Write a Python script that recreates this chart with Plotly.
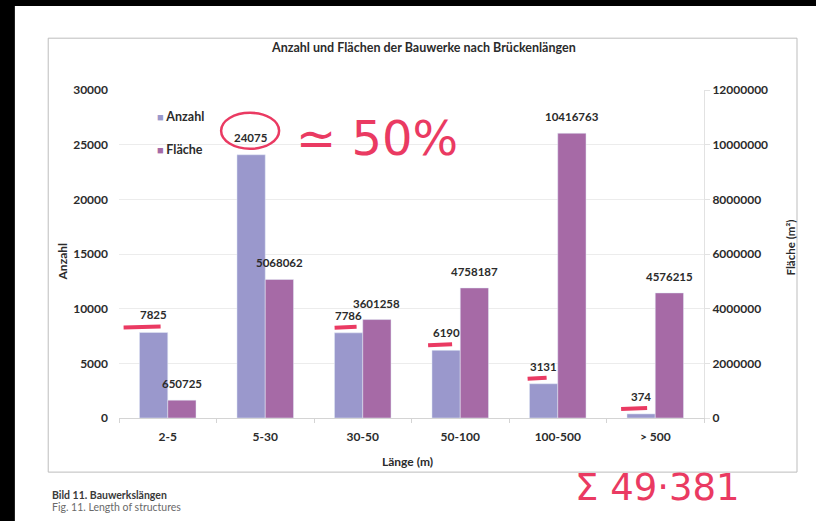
import plotly.graph_objects as go

# Bridge length classes and the two series per class
categories = ["2-5", "5-30", "30-50", "50-100", "100-500", "> 500"]
anzahl = [7825, 24075, 7786, 6190, 3131, 374]
flaeche = [650725, 5068062, 3601258, 4758187, 10416763, 4576215]

left_ticks = [0, 5000, 10000, 15000, 20000, 25000, 30000]
right_ticks = [0, 2000000, 4000000, 6000000, 8000000, 10000000, 12000000]

title = "Anzahl und Flächen der Bauwerke nach Brückenlängen"
caption_de = "Bild 11. Bauwerkslängen"
caption_en = "Fig. 11. Length of structures"
share_note = "≃ 50%"

C_ANZ = "#9a98cc"
C_FL = "#a66aa6"
RED = "#ea3a62"
FONT = "Lato"
TXT = "#2b2b2b"

W, H = 816, 521
ML, MR, MT, MB = 119, 112, 90, 103
BARGAP = 0.42

total = sum(anzahl)

fig = go.Figure()
fig.add_trace(go.Bar(x=categories, y=anzahl, name="Anzahl", marker_color=C_ANZ,
                     offsetgroup="a", yaxis="y", showlegend=False))
fig.add_trace(go.Bar(x=categories, y=flaeche, name="Fläche", marker_color=C_FL,
                     offsetgroup="b", yaxis="y2", showlegend=False))

tickfont = dict(family=FONT, size=12, color=TXT, weight="bold")

fig.update_layout(
    width=W, height=H,
    margin=dict(l=ML, r=MR, t=MT, b=MB),
    paper_bgcolor="white", plot_bgcolor="white",
    barmode="group", bargap=BARGAP, bargroupgap=0,
    xaxis=dict(type="category", showline=True, linecolor="#d4d4d4",
               ticks="outside", tickson="boundaries", ticklen=4,
               tickcolor="#d4d4d4", tickfont=tickfont, showgrid=False,
               ticklabelstandoff=8),
    yaxis=dict(range=[0, 30000], tickvals=left_ticks, tickformat="d",
               showgrid=True, gridcolor="#ececec", zeroline=False,
               showline=False, tickfont=tickfont, ticklabelstandoff=10),
    yaxis2=dict(range=[0, 12000000], tickvals=right_ticks, overlaying="y",
                side="right", showgrid=False, zeroline=False, showline=True,
                linecolor="#e2e2e2", tickfont=tickfont,
                tickformat="d", ticks="outside", ticklen=5,
                tickcolor="#e2e2e2"),
    font=dict(family=FONT, color=TXT),
)

# horizontal pixel offset of each bar centre inside its category slot
slot_px = (W - ML - MR) / len(categories)
half_bar_px = slot_px * (1 - BARGAP) / 4
bar_off = -(1 - BARGAP) / 4  # same, in category units

labfont = dict(family=FONT, size=11.5, color=TXT, weight="bold")
ann = []

# value labels above the bars
for c, v in zip(categories, anzahl):
    ann.append(dict(x=c, y=v, xref="x", yref="y", text=str(v), showarrow=False,
                    xshift=-half_bar_px, yshift=9, yanchor="bottom",
                    xanchor="center", font=labfont))
for c, v in zip(categories, flaeche):
    ann.append(dict(x=c, y=v, xref="x", yref="y2", text=str(v), showarrow=False,
                    xshift=half_bar_px, yshift=8, yanchor="bottom",
                    xanchor="center", font=labfont))

# legend entries
legfont = dict(family=FONT, size=12.5, color=TXT, weight="bold")
for name, col, yy in [("Anzahl", C_ANZ, 0.918), ("Fläche", C_FL, 0.818)]:
    ann.append(dict(text=f"<span style='color:{col};font-size:11px'>■&nbsp;</span>{name}",
                    x=0.061, y=yy, xref="paper", yref="paper", showarrow=False,
                    xanchor="left", yanchor="middle", font=legfont))

# chart title, axis titles and figure caption
ann += [
    dict(text=title, x=0.52, y=1.131, xref="paper", yref="paper",
         xanchor="center", yanchor="middle", showarrow=False,
         font=dict(family=FONT, size=12.5, color=TXT, weight="bold")),
    dict(text="Anzahl", x=-0.097, y=0.475, xref="paper", yref="paper",
         xanchor="center", yanchor="middle", textangle=-90, showarrow=False,
         font=dict(family=FONT, size=12, color=TXT, weight="bold")),
    dict(text="Fläche (m²)", x=1.147, y=0.52, xref="paper", yref="paper",
         xanchor="center", yanchor="middle", textangle=-90, showarrow=False,
         font=dict(family=FONT, size=11.5, color=TXT, weight="bold")),
    dict(text="Länge (m)", x=0.494, y=-0.134, xref="paper", yref="paper",
         xanchor="center", yanchor="middle", showarrow=False,
         font=dict(family=FONT, size=12, color=TXT, weight="bold")),
    dict(text=caption_de, x=-0.118, y=-0.235, xref="paper", yref="paper",
         xanchor="left", yanchor="middle", showarrow=False,
         font=dict(family=FONT, size=10.5, color="#3a3a3a", weight="bold")),
    dict(text=caption_en, x=-0.118, y=-0.272, xref="paper", yref="paper",
         xanchor="left", yanchor="middle", showarrow=False,
         font=dict(family=FONT, size=10.5, color="#6a6a6a")),
    # red handwritten notes
    dict(text=share_note, x=0.441, y=0.855, xref="paper", yref="paper",
         xanchor="center", yanchor="middle", showarrow=False,
         font=dict(family="DejaVu Sans", size=48, color=RED)),
    dict(text="Σ " + f"{total:,}".replace(",", "·"), x=0.921, y=-0.213,
         xref="paper", yref="paper", xanchor="center", yanchor="middle",
         showarrow=False, font=dict(family="DejaVu Sans", size=37, color=RED)),
]
fig.update_layout(annotations=ann)

shapes = [
    # scanned page edges
    dict(type="rect", xref="paper", yref="paper", x0=-0.21, x1=-0.178,
         y0=-0.33, y1=1.29, fillcolor="black", line_width=0, layer="below"),
    dict(type="rect", xref="paper", yref="paper", x0=-0.21, x1=1.2,
         y0=1.256, y1=1.29, fillcolor="black", line_width=0, layer="below"),
    # frame around the chart
    dict(type="rect", xref="paper", yref="paper", x0=-0.121, x1=1.159,
         y0=-0.165, y1=1.158, line=dict(color="#bdbdbd", width=1),
         fillcolor="rgba(0,0,0,0)", layer="below"),
]

# circle around the largest count
i_max = anzahl.index(max(anzahl))
shapes.append(dict(type="circle", xref="x", yref="y",
                   xsizemode="pixel", ysizemode="pixel",
                   xanchor=i_max + bar_off, yanchor=anzahl[i_max],
                   x0=-30, x1=28, y0=6, y1=42,
                   line=dict(color=RED, width=2.5)))

# red ticks marking the other counts
strokes = {0: (-30, 7), 2: (-14, 8), 3: (-18, 6), 4: (-16, 3), 5: (-20, 6)}
for i, (a, b) in strokes.items():
    shapes.append(dict(type="line", xref="x", yref="y",
                       xsizemode="pixel", ysizemode="pixel",
                       xanchor=i + bar_off, yanchor=anzahl[i],
                       x0=a, x1=b, y0=5, y1=6,
                       line=dict(color=RED, width=4)))

fig.update_layout(shapes=shapes)
fig.write_html("out.html")
